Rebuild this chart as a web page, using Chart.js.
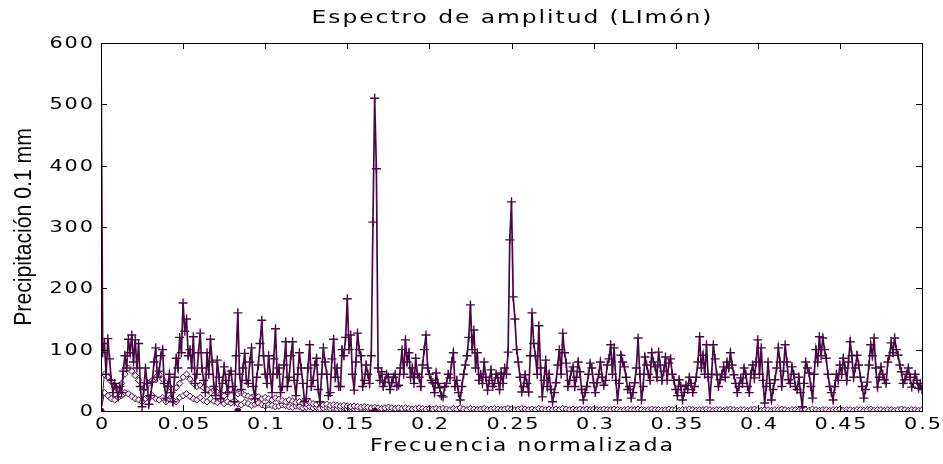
<!DOCTYPE html>
<html>
<head>
<meta charset="utf-8">
<script src="https://cdn.jsdelivr.net/npm/chart.js@4.4.1/dist/chart.umd.min.js"></script>
<style>
  html, body { margin: 0; padding: 0; background: #fff; }
  #wrap { width: 943px; height: 464px; }
</style>
</head>
<body>
<div id="wrap"><canvas id="graph" width="943" height="464"></canvas></div>
<script>
// frequency bins of the spectrum: 0 .. 0.5, step 1/960
const freq = [];
for (let i = 0; i <= 480; i++) freq.push(i / 960);
// coarser bins for the smoothed curves: step 1/480
const freqSuave = [];
for (let i = 0; i <= 240; i++) freqSuave.push(i / 480);

// amplitude spectrum
const amplitud = [
  600, 95, 110, 60, 118, 85, 50, 30, 45, 38, 23, 40, 30, 65, 90, 70, 117, 95, 124, 80, 116, 70, 110, 40, 7,
  35, 70, 45, 11, 25, 47, 80, 103, 55, 65, 90, 100, 45, 21, 40, 60, 30, 15, 55, 86, 70, 120, 95, 176,
  130, 150, 90, 100, 70, 121, 45, 60, 95, 127, 70, 50, 30, 95, 60, 117, 80, 40, 25, 83, 55, 20, 45, 72,
  50, 30, 60, 65, 40, 15, 90, 160, 60, 35, 70, 94, 50, 45, 80, 103, 40, 20, 55, 75, 110, 148, 90, 60,
  45, 90, 60, 30, 85, 134, 60, 70, 30, 40, 75, 113, 40, 55, 90, 113, 50, 25, 60, 95, 70, 45, 15, 20,
  70, 108, 40, 50, 75, 86, 35, 15, 60, 103, 80, 60, 25, 30, 85, 117, 55, 70, 40, 40, 100, 90, 120, 183,
  100, 124, 60, 34, 80, 127, 100, 90, 40, 50, 75, 60, 45, 90, 308, 510, 395, 70, 50, 64, 40, 47, 60, 55,
  35, 46, 55, 60, 40, 42, 70, 100, 60, 116, 80, 95, 55, 70, 45, 86, 60, 55, 40, 75, 100, 124, 70, 60,
  50, 46, 30, 62, 45, 38, 25, 23, 40, 45, 60, 54, 80, 95, 40, 50, 30, 18, 40, 60, 75, 90, 120, 173,
  100, 132, 70, 95, 50, 60, 45, 80, 55, 34, 50, 67, 40, 45, 60, 54, 35, 62, 45, 70, 60, 96, 279, 341,
  186, 150, 100, 80, 55, 31, 40, 59, 45, 31, 90, 160, 110, 90, 60, 139, 70, 23, 50, 83, 40, 60, 35, 15,
  30, 46, 75, 100, 60, 127, 95, 78, 40, 50, 65, 72, 40, 55, 80, 64, 35, 18, 30, 40, 60, 78, 70, 46,
  30, 46, 60, 80, 55, 42, 50, 75, 85, 108, 60, 103, 50, 18, 45, 91, 80, 72, 55, 35, 40, 21, 30, 46,
  70, 119, 60, 18, 40, 88, 75, 60, 50, 95, 80, 72, 55, 96, 75, 50, 65, 88, 50, 78, 85, 60, 50, 35,
  25, 51, 40, 18, 30, 42, 35, 55, 45, 30, 40, 55, 80, 121, 70, 91, 60, 108, 55, 18, 60, 108, 85, 59,
  40, 51, 60, 72, 55, 80, 70, 95, 75, 59, 45, 30, 40, 54, 45, 70, 60, 40, 30, 60, 75, 54, 80, 116,
  60, 103, 50, 13, 40, 80, 45, 18, 35, 51, 70, 103, 80, 40, 65, 108, 80, 51, 45, 72, 60, 40, 35, 55,
  30, 7, 45, 80, 70, 62, 40, 21, 60, 100, 80, 121, 90, 119, 100, 86, 60, 40, 30, 18, 40, 60, 50, 75,
  60, 86, 70, 50, 80, 113, 90, 55, 70, 91, 75, 55, 40, 21, 35, 47, 75, 108, 90, 119, 70, 39, 55, 72,
  60, 51, 45, 80, 90, 111, 95, 119, 100, 91, 75, 64, 45, 51, 60, 70, 55, 39, 45, 60, 50, 37, 45, 35
];

// smoothed, decaying spectra (diamonds)
const tendenciaA = [
  0, 60, 55, 48, 40, 35, 45, 60, 70, 65, 58, 50, 42, 38, 45, 50, 55, 60, 52, 45, 40, 35, 38, 45, 55,
  60, 52, 45, 40, 42, 38, 35, 30, 34, 30, 28, 25, 30, 35, 32, 28, 30, 26, 24, 22, 25, 23, 20, 22,
  20, 18, 21, 19, 17, 15, 18, 16, 14, 15, 13, 12, 14, 12, 11, 13, 10, 11, 9, 10, 9, 8, 9, 8, 7,
  8, 7, 6, 7, 6, 5, 6, 5, 4, 5, 6, 5, 4, 5, 4, 5, 4, 3, 4, 5, 4, 3, 4, 3, 4,
  3, 4, 3, 2, 4, 3, 5, 3, 2, 4, 3, 2, 3, 4, 2, 3, 4, 3, 2, 3, 4, 3, 2, 3,
  4, 3, 2, 3, 2, 4, 3, 2, 3, 2, 3, 2, 4, 3, 2, 3, 2, 3, 2, 3, 2, 3, 2, 2,
  3, 2, 2, 3, 2, 1, 2, 3, 2, 2, 3, 2, 1, 2, 3, 2, 2, 1, 2, 3, 2, 2, 1, 2,
  2, 3, 2, 1, 2, 2, 3, 2, 1, 2, 2, 1, 2, 3, 2, 1, 2, 2, 1, 2, 3, 2, 1, 2,
  2, 1, 2, 2, 3, 2, 1, 2, 2, 1, 2, 2, 1, 3, 2, 1, 2, 2, 1, 2, 2, 3, 1, 2,
  2, 1, 2, 2, 1, 2, 3, 1, 2, 2, 1, 2, 2, 1, 2, 3, 2, 1, 2, 2, 1, 2, 2, 1
];
const tendenciaB = [
  0, 30, 25, 20, 18, 22, 25, 30, 28, 24, 20, 18, 15, 20, 22, 25, 20, 18, 22, 15, 20, 18, 15, 22, 25,
  28, 24, 20, 18, 22, 17, 15, 20, 16, 14, 18, 12, 15, 13, 17, 12, 10, 14, 12, 9, 11, 13, 10, 8,
  10, 9, 7, 8, 10, 9, 7, 6, 8, 7, 5, 6, 7, 5, 6, 4, 5, 6, 4, 5, 3, 4, 5, 3, 4,
  3, 2, 3, 4, 2, 3, 2, 1, 2, 3, 2, 1, 2, 3, 2, 1, 2, 2, 1, 2, 1, 2, 1, 2
];
// zero points marked with dots
const ceros = [0, 1 / 12, 1 / 6];

const titulo = "Espectro de amplitud (LImón)";
const tituloX = "Frecuencia normalizada";
const tituloY = "Precipitación 0.1 mm";

function pts(xs, ys) {
  return ys.map((v, i) => ({ x: xs[i], y: v }));
}

const purple = "#470844";
const fuente = "'DejaVu Sans', 'Liberation Sans', sans-serif";

// wide, bitmap-like lettering of the original
function textoAncho(c, txt, x, y, size, align) {
  c.save();
  c.font = size + "px " + fuente;
  c.letterSpacing = "1.5px";
  c.fillStyle = "#000";
  c.textBaseline = "middle";
  const w = c.measureText(txt).width - 1.5;
  const k = 1.3;
  let x0 = x;
  if (align === "center") x0 = x - w * k / 2;
  if (align === "right") x0 = x - w * k;
  c.translate(x0, y);
  c.scale(k, 1);
  c.textAlign = "left";
  c.fillText(txt, 0, 0);
  c.restore();
}

// box, inward ticks and all the lettering, matlab style
const boxPlugin = {
  id: "box",
  afterDraw(chart) {
    const c = chart.ctx, a = chart.chartArea;
    const sx = chart.scales.x, sy = chart.scales.y;
    c.save();
    c.strokeStyle = "#000";
    c.lineWidth = 1;
    c.strokeRect(a.left + 0.5, a.top + 0.5, a.right - a.left, a.bottom - a.top);
    sx.ticks.forEach(t => {
      const px = Math.round(sx.getPixelForValue(t.value)) + 0.5;
      c.beginPath();
      c.moveTo(px, a.bottom); c.lineTo(px, a.bottom - 6);
      c.moveTo(px, a.top); c.lineTo(px, a.top + 6);
      c.stroke();
      textoAncho(c, String(Math.round(t.value * 100) / 100), px, a.bottom + 14, 16, "center");
    });
    sy.ticks.forEach(t => {
      const py = Math.round(sy.getPixelForValue(t.value)) + 0.5;
      c.beginPath();
      c.moveTo(a.left, py); c.lineTo(a.left + 6, py);
      c.moveTo(a.right, py); c.lineTo(a.right - 6, py);
      c.stroke();
      textoAncho(c, String(t.value), a.left - 8, py, 16, "right");
    });
    textoAncho(c, titulo, (a.left + a.right) / 2, 18, 18, "center");
    textoAncho(c, tituloX, (a.left + a.right) / 2 + 10, 447, 17, "center");
    // y axis title, narrow
    c.translate(25, (a.top + a.bottom) / 2);
    c.rotate(-Math.PI / 2);
    c.scale(0.92, 1);
    c.fillStyle = "#000";
    c.font = "23px 'Liberation Sans', Arial, sans-serif";
    c.textAlign = "center";
    c.textBaseline = "middle";
    c.fillText(tituloY, 0, 0);
    c.restore();
  }
};

const ctx = document.getElementById("graph").getContext("2d");
let myChart = new Chart(ctx, {
  type: "line",
  data: {
    datasets: [
      {
        label: "ceros",
        data: ceros.map(f => ({ x: f, y: 0 })),
        showLine: false,
        pointStyle: "circle",
        pointRadius: 3,
        pointBackgroundColor: purple,
        pointBorderColor: purple,
        order: 0
      },
      {
        label: "Espectro",
        data: pts(freq, amplitud),
        borderColor: purple,
        borderWidth: 1.7,
        pointStyle: "cross",
        pointRadius: 4.5,
        pointBorderColor: purple,
        pointBorderWidth: 1.4,
        tension: 0,
        order: 1
      },
      {
        label: "A",
        data: pts(freqSuave, tendenciaA),
        borderColor: purple,
        borderWidth: 1,
        pointStyle: "rectRot",
        pointRadius: 3.2,
        pointBackgroundColor: "#f4eef4",
        pointBorderColor: purple,
        pointBorderWidth: 1,
        tension: 0,
        order: 2
      },
      {
        label: "B",
        data: pts(freqSuave, tendenciaB),
        borderColor: purple,
        borderWidth: 1,
        pointStyle: "rectRot",
        pointRadius: 3.2,
        pointBackgroundColor: "#f4eef4",
        pointBorderColor: purple,
        pointBorderWidth: 1,
        tension: 0,
        order: 3
      }
    ]
  },
  options: {
    responsive: false,
    animation: false,
    events: [],
    layout: { padding: { top: 43, right: 21, bottom: 0, left: 0 } },
    plugins: {
      legend: { display: false },
      tooltip: { enabled: false },
      title: { display: false }
    },
    scales: {
      x: {
        type: "linear",
        min: 0,
        max: 0.5,
        afterFit: s => { s.height = 53; },
        ticks: { stepSize: 0.05, display: false },
        grid: { display: false, drawTicks: false },
        border: { display: false }
      },
      y: {
        min: 0,
        max: 600,
        afterFit: s => { s.width = 101; },
        ticks: { stepSize: 100, display: false },
        grid: { display: false, drawTicks: false },
        border: { display: false }
      }
    }
  },
  plugins: [boxPlugin]
});
</script>
</body>
</html>
